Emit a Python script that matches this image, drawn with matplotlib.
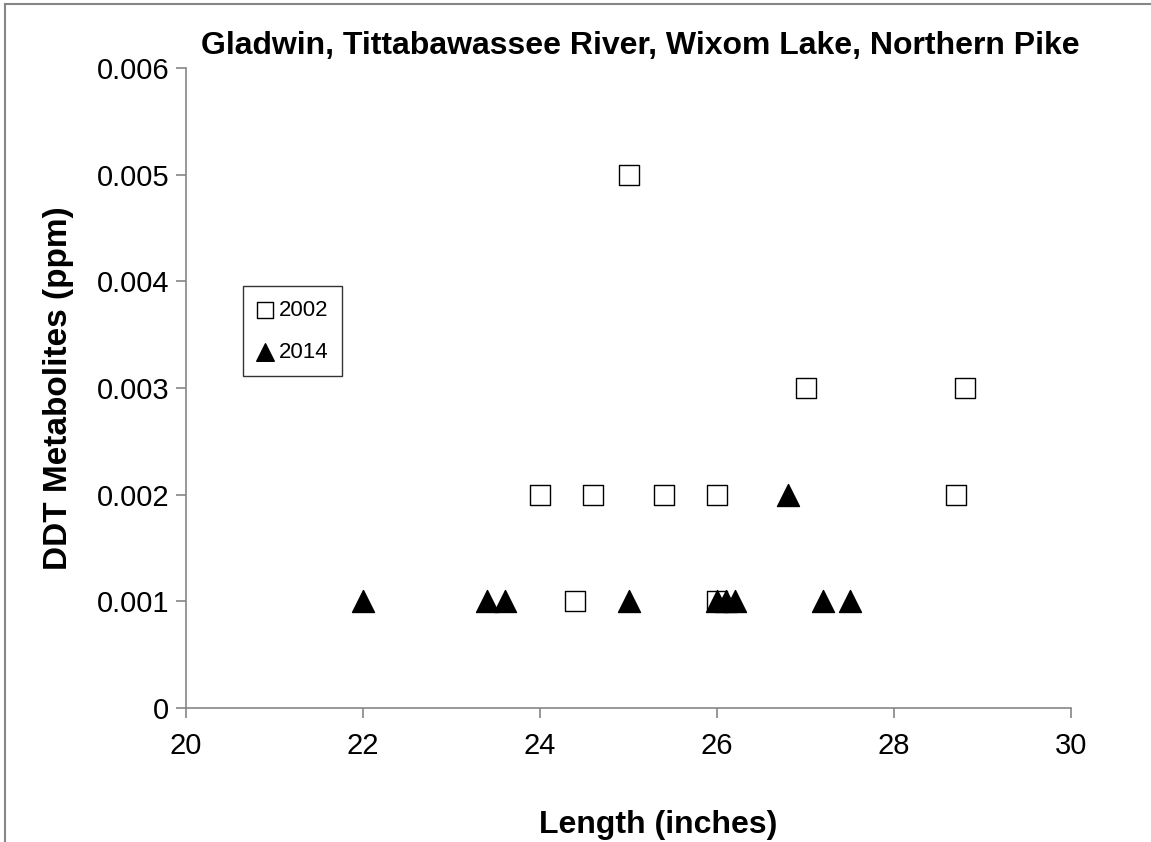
import numpy as np
import matplotlib.pyplot as plt

plt.rcParams['font.family'] = ['Liberation Sans', 'DejaVu Sans']

# 2002 samples
len_2002 = [25.0, 27.0, 28.8, 24.0, 24.6, 25.4, 26.0, 28.7, 24.4, 26.0]
ddt_2002 = [0.005, 0.003, 0.003, 0.002, 0.002, 0.002, 0.002, 0.002, 0.001, 0.001]

# 2014 samples
len_2014 = [22.0, 23.4, 23.6, 25.0, 26.0, 26.1, 26.2, 26.8, 27.2, 27.5]
ddt_2014 = [0.001, 0.001, 0.001, 0.001, 0.001, 0.001, 0.001, 0.002, 0.001, 0.001]

fig = plt.figure(figsize=(11.51, 8.42), dpi=100)
ax = fig.add_axes([0.1616, 0.1591, 0.7689, 0.7601])

ax.scatter(len_2002, ddt_2002, marker='s', s=210, facecolors='white',
           edgecolors='black', linewidths=1.0, label='2002', zorder=3)
ax.scatter(len_2014, ddt_2014, marker='^', s=250, color='black',
           label='2014', zorder=4)

ax.set_xlim(20, 30)
ax.set_ylim(0, 0.006)
ax.set_xticks([20, 22, 24, 26, 28, 30])
ax.set_yticks([0, 0.001, 0.002, 0.003, 0.004, 0.005, 0.006])
ax.set_yticklabels(['0', '0.001', '0.002', '0.003', '0.004', '0.005', '0.006'])

for s in ['top', 'right']:
    ax.spines[s].set_visible(False)
for s in ['left', 'bottom']:
    ax.spines[s].set_color('#868686')
    ax.spines[s].set_linewidth(1.2)
ax.tick_params(axis='both', colors='#868686', labelcolor='black',
               labelsize=21, length=7, width=1.2, direction='out')
ax.tick_params(axis='y', pad=5)
ax.tick_params(axis='x', pad=10)

fig.text(0.556, 1 - 54 / 842, 'Gladwin, Tittabawassee River, Wixom Lake, Northern Pike',
         fontsize=23, fontweight='bold', ha='center', va='baseline')
ax.set_xlabel('Length (inches)', fontsize=23, fontweight='bold')
ax.xaxis.set_label_coords(0.533, -0.195)
ax.xaxis.label.set_verticalalignment('baseline')
ax.set_ylabel('DDT Metabolites (ppm)', fontsize=24, fontweight='bold', labelpad=16)

leg = ax.legend(loc='upper left', bbox_to_anchor=(0.0644, 0.659),
                fontsize=16, frameon=True, fancybox=False, edgecolor='black',
                handletextpad=0.2, handlelength=0.8, borderpad=0.6,
                labelspacing=0.95, borderaxespad=0, markerscale=0.8)
leg.get_frame().set_linewidth(1.0)

# outer chart border (left and top)
fig.add_artist(plt.Line2D([0.004, 0.004], [0, 0.995], color='#868686', lw=1.5,
                          transform=fig.transFigure))
fig.add_artist(plt.Line2D([0.004, 1.0], [0.995, 0.995], color='#868686', lw=1.5,
                          transform=fig.transFigure))

fig.savefig('out.png', dpi=100)
